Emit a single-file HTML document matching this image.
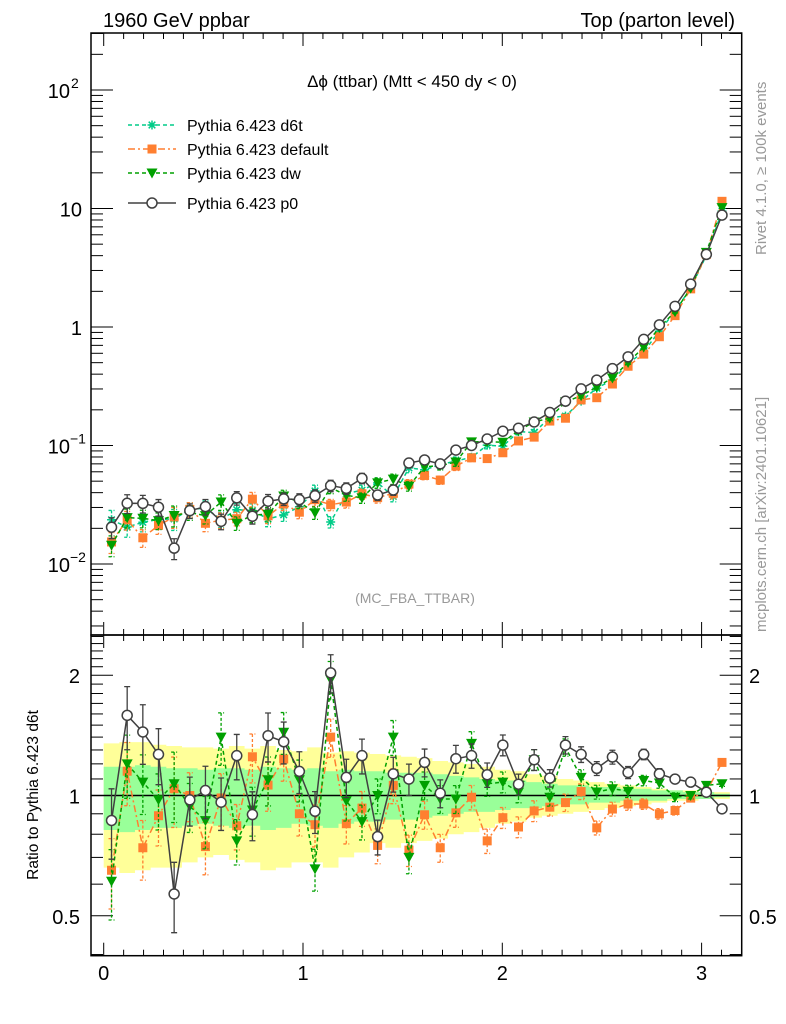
<!DOCTYPE html>
<html><head><meta charset="utf-8"><style>
html,body{margin:0;padding:0;background:#fff;}
svg{display:block;font-family:"Liberation Sans",sans-serif;}
</style></head><body>
<svg id="chart" width="786" height="1024" viewBox="0 0 786 1024" xmlns="http://www.w3.org/2000/svg">
<text x="103" y="27" font-size="20">1960 GeV ppbar</text>
<text x="735" y="27" font-size="20" text-anchor="end">Top (parton level)</text>
<text x="412" y="87" font-size="17" text-anchor="middle">Δϕ (ttbar) (Mtt &lt; 450 dy &lt; 0)</text>
<text x="415" y="603" font-size="14" fill="#999" text-anchor="middle">(MC_FBA_TTBAR)</text>
<text transform="translate(766,255) rotate(-90)" font-size="15" fill="#999">Rivet 4.1.0, ≥ 100k events</text>
<text transform="translate(766,632) rotate(-90)" font-size="15" fill="#999">mcplots.cern.ch [arXiv:2401.10621]</text>
<text transform="translate(38,795) rotate(-90)" font-size="15.5" text-anchor="middle">Ratio to Pythia 6.423 d6t</text>
<g id="bands"></g>
<g id="grid"></g>
<g id="series"></g>
<g id="legend"></g>
</svg>
<script>
const d6tMain=[0.0236,0.0205,0.0225,0.0238,0.024,0.0289,0.0296,0.0238,0.0287,0.0282,0.024,0.026,0.0304,0.0413,0.0226,0.0392,0.042,0.0484,0.0372,0.0647,0.0624,0.069,0.074,0.0795,0.1007,0.0987,0.131,0.1286,0.172,0.177,0.237,0.305,0.357,0.49,0.62,0.92,1.36,2.13,4.02,9.5];
const p0Ratio=[0.866,1.587,1.442,1.267,0.567,0.975,1.029,0.962,1.258,0.896,1.411,1.363,1.149,0.913,2.027,1.11,1.258,0.789,1.133,1.099,1.21,1.013,1.236,1.258,1.127,1.337,1.067,1.229,1.105,1.337,1.267,1.169,1.248,1.142,1.267,1.133,1.099,1.08,1.019,0.926];
const defRatio=[0.65,1.15,0.74,0.89,1.04,1.0,0.745,0.986,0.84,1.25,1.062,1.234,0.90,0.845,1.4,0.85,0.93,0.75,1.06,0.73,0.895,0.74,0.905,0.99,0.77,0.88,0.834,0.915,0.935,0.96,1.023,0.83,0.925,0.952,0.952,0.90,0.917,0.985,1.02,1.21];
const dwRatio=[0.61,1.2,1.08,0.976,1.07,0.94,0.865,1.4,0.77,0.92,1.095,1.44,1.095,0.655,1.95,0.97,0.86,1.0,1.4,0.70,1.06,0.98,0.98,1.35,1.07,1.08,1.02,1.229,0.99,1.32,1.11,1.02,1.04,1.025,1.09,1.075,0.99,1.0,1.06,1.07];
const relErr=[0.2,0.18,0.17,0.16,0.2,0.14,0.15,0.15,0.13,0.14,0.14,0.12,0.12,0.12,0.11,0.11,0.1,0.1,0.1,0.09,0.08,0.08,0.08,0.07,0.07,0.06,0.06,0.06,0.05,0.05,0.045,0.04,0.04,0.035,0.03,0.03,0.025,0.02,0.02,0.015];
const yHi=[1.35,1.36,1.36,1.34,1.33,1.32,1.32,1.31,1.33,1.31,1.33,1.30,1.29,1.32,1.28,1.29,1.28,1.27,1.26,1.25,1.24,1.22,1.21,1.20,1.18,1.16,1.15,1.13,1.12,1.10,1.09,1.08,1.07,1.06,1.05,1.04,1.03,1.03,1.02,1.02];
const yLo=[0.66,0.64,0.65,0.66,0.66,0.68,0.70,0.71,0.69,0.68,0.65,0.66,0.68,0.68,0.66,0.70,0.72,0.76,0.74,0.76,0.77,0.78,0.80,0.81,0.83,0.85,0.86,0.88,0.89,0.90,0.91,0.92,0.93,0.94,0.95,0.96,0.97,0.97,0.98,0.98];
const gHi=[1.18,1.18,1.19,1.18,1.17,1.17,1.16,1.17,1.17,1.16,1.18,1.17,1.16,1.17,1.15,1.16,1.15,1.15,1.14,1.14,1.14,1.13,1.12,1.11,1.10,1.09,1.09,1.08,1.07,1.06,1.06,1.05,1.05,1.04,1.04,1.03,1.03,1.02,1.02,1.01];
const gLo=[0.82,0.81,0.82,0.83,0.83,0.84,0.85,0.84,0.83,0.84,0.82,0.83,0.85,0.84,0.83,0.85,0.86,0.86,0.87,0.87,0.88,0.89,0.90,0.91,0.91,0.92,0.93,0.93,0.94,0.95,0.95,0.96,0.96,0.97,0.97,0.97,0.98,0.98,0.98,0.99];
const xTicks=[0,1,2,3];
const mainTicks=[-2,-1,0,1,2];
const mainTickLabels=["10","10","1","10","10"];
const mainTickSup=["−2","−1","","","2"];
const ratioTicks=[0.5,1,2];
const ratioTickLabels=["0.5","1","2"];

const NS="http://www.w3.org/2000/svg";
const L=91,R=741.7,T=33,MID=635,B=955.7;
const N=40,W=Math.PI/40;
const X=v=>103.7+v*199.3;
const YM=v=>564-(Math.log10(v)+2)*118.5;
const YR=r=>795.5-Math.log2(r)*120.3;
function mk(parent,tag,attrs){const e=document.createElementNS(NS,tag);for(const k in attrs)e.setAttribute(k,attrs[k]);parent.appendChild(e);return e;}
const svg=document.getElementById('chart');
const bands=document.getElementById('bands'),grid=document.getElementById('grid'),ser=document.getElementById('series'),leg=document.getElementById('legend');
const defs=mk(svg,'defs',{});
const cp1=mk(defs,'clipPath',{id:'cm'});mk(cp1,'rect',{x:L,y:T,width:R-L,height:MID-T});
const cp2=mk(defs,'clipPath',{id:'cr'});mk(cp2,'rect',{x:L,y:MID,width:R-L,height:B-MID});

function band(hi,lo,color,name){
  let d='';
  for(let i=0;i<N;i++){const x0=X(i*W),x1=X((i+1)*W);d+=(i?'L':'M')+x0+' '+YR(hi[i])+'L'+x1+' '+YR(hi[i]);}
  for(let i=N-1;i>=0;i--){const x0=X(i*W),x1=X((i+1)*W);d+='L'+x1+' '+YR(lo[i])+'L'+x0+' '+YR(lo[i]);}
  const p=mk(bands,'path',{d:d+'Z',fill:color,'clip-path':'url(#cr)'});
  
  
}
band(yHi,yLo,'#ffff99','yellow-uncertainty-band');
band(gHi,gLo,'#99ff99','green-uncertainty-band');
const one=mk(bands,'line',{x1:L,x2:R,y1:YR(1),y2:YR(1),stroke:'#000','stroke-width':1.5});



const f1=mk(grid,'rect',{x:L,y:T,width:R-L,height:MID-T,fill:'none',stroke:'#000','stroke-width':1.5});


const f2=mk(grid,'rect',{x:L,y:MID,width:R-L,height:B-MID,fill:'none',stroke:'#000','stroke-width':1.5});


for(let v=0;v<=3.2;v+=0.1){
  const vv=Math.round(v*10)/10;const maj=Math.abs(vv-Math.round(vv))<1e-6;const x=X(vv);const len=maj?13:6;
  if(x>R)continue;
  mk(grid,'line',{x1:x,x2:x,y1:T,y2:T+len,stroke:'#000'});
  mk(grid,'line',{x1:x,x2:x,y1:MID,y2:MID-len,stroke:'#000'});
  mk(grid,'line',{x1:x,x2:x,y1:MID,y2:MID+len,stroke:'#000'});
  mk(grid,'line',{x1:x,x2:x,y1:B,y2:B-len,stroke:'#000'});
}
xTicks.forEach((v,i)=>{const t=mk(grid,'text',{x:X(v),y:980,'font-size':20,'text-anchor':'middle'});t.textContent=String(v);

});
for(let dcd=-3;dcd<=2;dcd++){for(let m=1;m<10;m++){const v=m*Math.pow(10,dcd);const y=YM(v);if(y<T||y>MID)continue;const len=m===1?22:12;
  mk(grid,'line',{x1:L,x2:L+len,y1:y,y2:y,stroke:'#000'});mk(grid,'line',{x1:R,x2:R-len,y1:y,y2:y,stroke:'#000'});}}
mainTicks.forEach((e,i)=>{const y=YM(Math.pow(10,e));const t=mk(grid,'text',{x:mainTickSup[i]?70:82,y:y+8,'font-size':20,'text-anchor':'end'});t.textContent=mainTickLabels[i];


if(mainTickSup[i]){const s=mk(grid,'text',{x:mainTickSup[i]==="2"?71:70,y:y-2,'font-size':14});s.textContent=mainTickSup[i];}});
for(let r=0.4;r<=2.6;r+=0.1){const rr=Math.round(r*10)/10;const y=YR(rr);if(y<MID||y>B)continue;const maj=ratioTicks.includes(rr);const len=maj?22:12;
  mk(grid,'line',{x1:L,x2:L+len,y1:y,y2:y,stroke:'#000'});mk(grid,'line',{x1:R,x2:R-len,y1:y,y2:y,stroke:'#000'});}
ratioTicks.forEach((r,i)=>{const y=YR(r);
 const a=mk(grid,'text',{x:80,y:y+8,'font-size':20,'text-anchor':'end'});a.textContent=ratioTickLabels[i];
 
 
 const b=mk(grid,'text',{x:749,y:y+8,'font-size':20});b.textContent=ratioTickLabels[i];
 
 });

function marker(g,type,x,y,color){
  if(type==='star'){const s=4.5;mk(g,'path',{d:`M${x-s} ${y}H${x+s}M${x} ${y-s}V${y+s}M${x-3.3} ${y-3.3}L${x+3.3} ${y+3.3}M${x-3.3} ${y+3.3}L${x+3.3} ${y-3.3}`,stroke:color,'stroke-width':1.5});}
  else if(type==='sq'){mk(g,'rect',{x:x-4.5,y:y-4.5,width:9,height:9,fill:color});}
  else if(type==='tri'){mk(g,'path',{d:`M${x-5.5} ${y-4.5}L${x+5.5} ${y-4.5}L${x} ${y+5.5}Z`,fill:color});}
  else {mk(g,'circle',{cx:x,cy:y,r:5,fill:'#fff',stroke:color,'stroke-width':1.5});}
}
const series=[
 {name:'d6t',ratio:d6tMain.map(()=>1),color:'#00cc88',type:'star',dash:'4,3'},
 {name:'default',ratio:defRatio,color:'#ff7f30',type:'sq',dash:'7,3,2,3'},
 {name:'dw',ratio:dwRatio,color:'#00a000',type:'tri',dash:'4,3'},
 {name:'p0',ratio:p0Ratio,color:'#404040',type:'circ',dash:''}
];
series.forEach(s=>{
  ['main','ratio'].forEach(panel=>{
    if(panel==='ratio'&&s.name==='d6t')return;
    const g=mk(ser,'g',{'clip-path':panel==='main'?'url(#cm)':'url(#cr)'});
    
    
    const pts=[];
    for(let i=0;i<N;i++){
      const xc=X((i+0.5)*W);
      const val=panel==='main'?d6tMain[i]*s.ratio[i]:s.ratio[i];
      const Y=panel==='main'?YM:YR;
      const y=Y(val),yh=Y(val*(1+relErr[i])),yl=Y(val*(1-relErr[i]));
      pts.push([xc,y]);
      mk(g,'path',{d:`M${xc} ${yh}V${yl}M${xc-3} ${yh}H${xc+3}M${xc-3} ${yl}H${xc+3}`,stroke:s.color,'stroke-width':1.3,'stroke-dasharray':s.name==='p0'?'':'3,2'});
    }
    const ln=mk(g,'path',{d:'M'+pts.map(p=>p.join(' ')).join('L'),fill:'none',stroke:s.color,'stroke-width':1.5,'stroke-dasharray':s.dash});
    
    
    pts.forEach(p=>marker(g,s.type,p[0],p[1],s.color));
  });
});
const legY=[125,149,173,203];
series.forEach((s,i)=>{
  const g=mk(leg,'g',{});
  
  
  const y=legY[i];
  mk(g,'line',{x1:128,x2:176,y1:y,y2:y,stroke:s.color,'stroke-width':1.5,'stroke-dasharray':s.dash});
  marker(g,s.type,152,y,s.color);
  const t=mk(g,'text',{x:187,y:y+6,'font-size':16});
  t.textContent=['Pythia 6.423 d6t','Pythia 6.423 default','Pythia 6.423 dw','Pythia 6.423 p0'][i];
});
</script>
</body></html>
